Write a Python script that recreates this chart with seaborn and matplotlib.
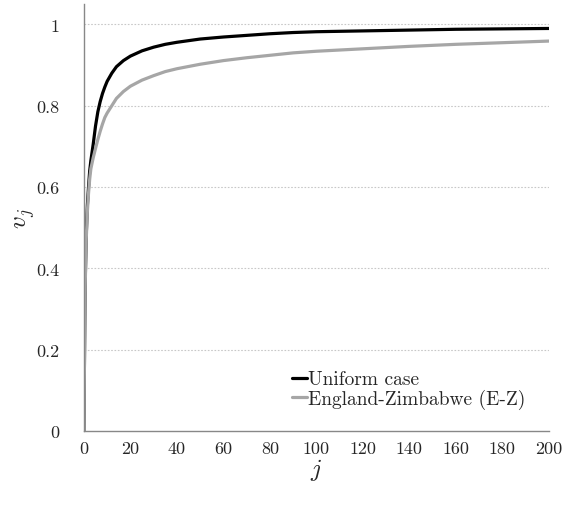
import matplotlib
matplotlib.use("Agg")
import matplotlib.pyplot as plt
import seaborn as sns
import pandas as pd

# values
j_values = [0, 0.5, 1, 1.5, 2, 2.5, 3, 4, 5, 6, 7, 8, 9, 10, 12, 14, 17, 20, 25, 30, 35, 40,
            50, 60, 70, 80, 90, 100, 120, 140, 160, 180, 200]
uniform_v = [0.0, 0.35, 0.48, 0.555, 0.60, 0.64, 0.665, 0.705, 0.75, 0.785, 0.81, 0.83, 0.846, 0.86,
             0.88, 0.896, 0.911, 0.922, 0.935, 0.944, 0.951, 0.956,
             0.964, 0.969, 0.973, 0.977, 0.980, 0.982, 0.984, 0.986, 0.988, 0.989, 0.990]
ez_v = [0.0, 0.34, 0.47, 0.54, 0.585, 0.62, 0.645, 0.672, 0.695, 0.717, 0.737, 0.755, 0.771, 0.782,
        0.80, 0.818, 0.835, 0.848, 0.863, 0.874, 0.884, 0.891,
        0.902, 0.911, 0.918, 0.924, 0.930, 0.934, 0.940, 0.946, 0.951, 0.955, 0.959]

series_names = ["Uniform case", "England-Zimbabwe (E-Z)"]
series_colors = ["#000000", "#a6a6a6"]
x_ticks = [0, 20, 40, 60, 80, 100, 120, 140, 160, 180, 200]
y_ticks = [0, 0.2, 0.4, 0.6, 0.8, 1.0]
y_ticklabels = ["0", "0.2", "0.4", "0.6", "0.8", "1"]

df = pd.concat([
    pd.DataFrame({"j": j_values, "v": uniform_v, "series": series_names[0]}),
    pd.DataFrame({"j": j_values, "v": ez_v, "series": series_names[1]}),
])

sns.set_style("white")
plt.rcParams["font.family"] = "serif"
plt.rcParams["font.serif"] = ["cmr10", "DejaVu Serif"]
plt.rcParams["mathtext.fontset"] = "cm"
plt.rcParams["axes.unicode_minus"] = False
plt.rcParams["lines.solid_joinstyle"] = "round"

fig = plt.figure(figsize=(5.63, 5.06), dpi=100)
ax = fig.add_axes([0.149, 0.146, 0.826, 0.844])

sns.lineplot(data=df, x="j", y="v", hue="series", palette=series_colors,
             hue_order=series_names, linewidth=2.3, sort=False, ax=ax)

ax.set_xlim(0, 200)
ax.set_ylim(0, 1.05)
ax.set_xticks(x_ticks)
ax.set_xticklabels([str(t) for t in x_ticks])
ax.set_yticks(y_ticks)
ax.set_yticklabels(y_ticklabels)

# dotted horizontal gridlines like the original
for yv in y_ticks[1:]:
    ax.axhline(yv, color="#c8c8c8", linewidth=0.8, linestyle=(0, (1.5, 1.5)), zorder=0)

for side in ["top", "right"]:
    ax.spines[side].set_visible(False)
for side in ["left", "bottom"]:
    ax.spines[side].set_color("#888888")
    ax.spines[side].set_linewidth(1.0)

ax.tick_params(axis="x", direction="out", length=4, width=0.8, color="#bbbbbb",
               labelsize=13, pad=3)
ax.tick_params(axis="y", direction="out", length=5, width=0.8, color="#bbbbbb",
               labelsize=13, pad=13)

ax.set_xlabel("$j$", fontsize=18, labelpad=0)
ax.set_ylabel("$v_j$", fontsize=18)
ax.yaxis.set_label_coords(-0.1, 0.5)

ax.legend(title=None, loc="upper left", bbox_to_anchor=(0.447, 0.142), frameon=False,
          fontsize=14, handlelength=0.8, handletextpad=0.05, labelspacing=0.0,
          borderaxespad=0, borderpad=0)

fig.savefig("out.png", dpi=100)
